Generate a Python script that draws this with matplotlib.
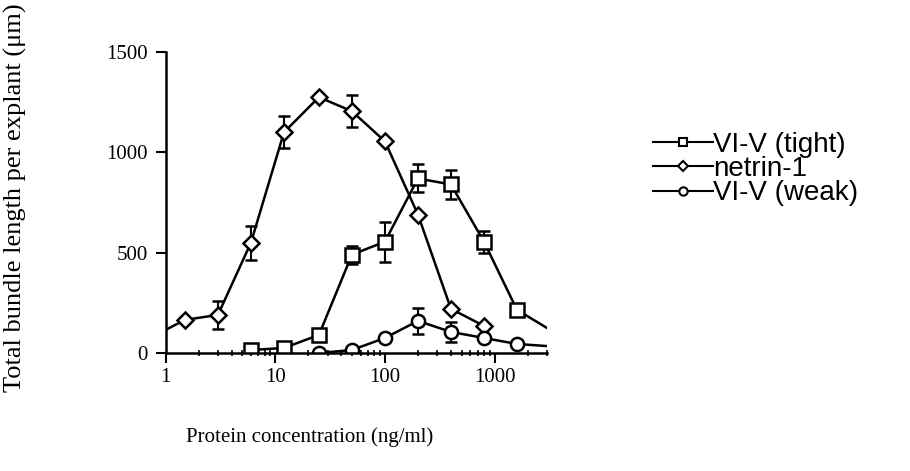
import matplotlib.pyplot as plt
from matplotlib.lines import Line2D

# concentrations (ng/ml)
netrin_x = [0.75, 1.5, 3, 6, 12, 25, 50, 100, 200, 400, 800]
netrin_y = [80, 165, 190, 550, 1100, 1275, 1205, 1055, 690, 220, 135]
netrin_err = [0, 0, 70, 85, 80, 0, 80, 0, 0, 0, 0]

tight_x = [6, 12, 25, 50, 100, 200, 400, 800, 1600, 4000]
tight_y = [15, 25, 90, 490, 555, 870, 840, 555, 215, 84]
tight_err = [0, 0, 0, 45, 100, 70, 70, 55, 0, 0]

weak_x = [25, 50, 100, 200, 400, 800, 1600, 4000]
weak_y = [0, 15, 75, 160, 105, 75, 45, 30]
weak_err = [0, 0, 0, 65, 50, 0, 0, 0]

labels = ['VI-V (tight)', 'netrin-1', 'VI-V (weak)']
serif = 'Liberation Serif'
sans = 'Liberation Sans'

fig = plt.figure(figsize=(9.1, 4.71), dpi=100)
ax = fig.add_axes([0.182, 0.2505, 0.419, 0.639])

style = dict(color='black', lw=1.8, mfc='white', mew=1.8, ecolor='black',
             elinewidth=1.5, capsize=4, capthick=1.5)
ax.errorbar(tight_x, tight_y, yerr=tight_err, marker='s', ms=9.5, **style)
ax.errorbar(netrin_x, netrin_y, yerr=netrin_err, marker='D', ms=8.5, **style)
ax.errorbar(weak_x, weak_y, yerr=weak_err, marker='o', ms=9.5, **style)

ax.set_xscale('log')
ax.set_xlim(1, 3000)
ax.set_ylim(0, 1500)
ax.set_yticks([0, 500, 1000, 1500])
ax.set_xticks([1, 10, 100, 1000])
ax.set_xticklabels(['1', '10', '100', '1000'])
for s in ['top', 'right']:
    ax.spines[s].set_visible(False)
for s in ['left', 'bottom']:
    ax.spines[s].set_linewidth(1.8)
ax.tick_params(which='major', length=7, width=1.5, labelsize=15)
ax.tick_params(axis='y', pad=6)
ax.tick_params(which='minor', length=5, width=1.2, direction='inout')
for lab in ax.get_xticklabels() + ax.get_yticklabels():
    lab.set_family(serif)

fig.text(0.017, 0.58, 'Total bundle length per explant (\u03bcm)', rotation=90,
         ha='center', va='center', family=serif, fontsize=19)
fig.text(0.34, 0.072, 'Protein concentration (ng/ml)', ha='center', va='center',
         family=serif, fontsize=15)

handles = [Line2D([], [], color='black', lw=1.5, marker=m, ms=s, mfc='white', mew=1.5)
           for m, s in [('s', 6), ('D', 5), ('o', 6)]]
fig.legend(handles, labels, loc='center left', bbox_to_anchor=(0.7176, 0.641),
           frameon=False, prop={'family': sans, 'size': 20}, handlelength=2.16,
           handletextpad=0.0, labelspacing=-0.06, borderaxespad=0, borderpad=0)

fig.savefig('out.png', dpi=100)
